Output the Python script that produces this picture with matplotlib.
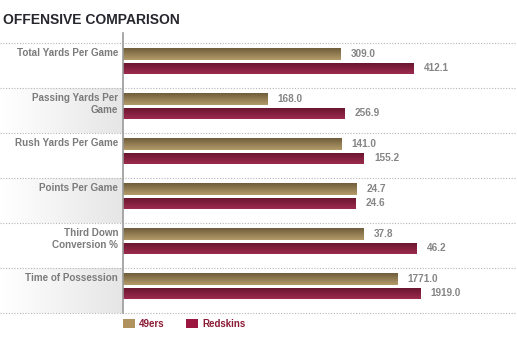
import numpy as np
import matplotlib
matplotlib.use("Agg")
import matplotlib.pyplot as plt
from matplotlib import font_manager
from matplotlib.lines import Line2D
from matplotlib.patches import Patch
from matplotlib.colors import to_rgb

# --- data ---
categories = ["Total Yards Per Game", "Passing Yards Per\nGame", "Rush Yards Per Game",
              "Points Per Game", "Third Down\nConversion %", "Time of Possession"]
niners = [309.0, 168.0, 141.0, 24.7, 37.8, 1771.0]
redskins = [412.1, 256.9, 155.2, 24.6, 46.2, 1919.0]
# each row has its own full-scale value
row_max = [559, 458, 254, 41.7, 62, 2540]
teams = ["49ers", "Redskins"]

GOLD_TOP, GOLD_BOT = "#6f5e3c", "#b39a69"
RED_TOP, RED_BOT = "#6b1630", "#9c2b4e"
GOLD_KEY, RED_KEY = "#b0925f", "#9c1640"
LABEL_C = "#7b7b7b"
VALUE_C = "#858585"

plt.rcParams["font.family"] = ["Liberation Sans", "DejaVu Sans"]

W, H = 517, 353
fig = plt.figure(figsize=(W / 100, H / 100), dpi=100)

n = len(categories)
top_pad = 10 / 45  # axis line sticks out above the first row
bottom_px, top_px = 313.3, 43.3 - 10
ax = fig.add_axes([123 / W, (H - bottom_px) / H, 1 - 123 / W, (bottom_px - top_px) / H])
lab = fig.add_axes([0, (H - bottom_px) / H, 123 / W, (bottom_px - top_px) / H], zorder=-1)


def grad(c1, c2, steps=32, horizontal=False):
    a = np.linspace(0, 1, steps)[:, None]
    arr = np.array(to_rgb(c1)) * (1 - a) + np.array(to_rgb(c2)) * a
    arr = arr[:, None, :]
    if horizontal:
        arr = arr.transpose(1, 0, 2)
    return arr


def gradient_bars(bars, c_top, c_bot):
    for b in bars:
        x0, y0 = b.get_x(), b.get_y()
        w, h = b.get_width(), b.get_height()
        b.set_facecolor("none")
        b.set_edgecolor("none")
        im = ax.imshow(grad(c_top, c_bot), extent=(x0, x0 + w, y0 + h, y0),
                       origin="upper", aspect="auto", interpolation="bilinear", zorder=2)
        im.set_clip_path(b)


y = np.arange(n)
nin_frac = np.array(niners) / np.array(row_max)
red_frac = np.array(redskins) / np.array(row_max)

b1 = ax.barh(y + 0.233, nin_frac, height=0.265, zorder=2)
b2 = ax.barh(y + 0.556, red_frac, height=0.24, zorder=2)
gradient_bars(b1, GOLD_TOP, GOLD_BOT)
gradient_bars(b2, RED_TOP, RED_BOT)

for i in range(n):
    ax.annotate(f"{niners[i]:.1f}", (nin_frac[i], y[i] + 0.233), xytext=(7.3, 0),
                textcoords="offset points", va="center", ha="left",
                fontsize=7.2, fontweight="bold", color=VALUE_C)
    ax.annotate(f"{redskins[i]:.1f}", (red_frac[i], y[i] + 0.556), xytext=(7.3, 0),
                textcoords="offset points", va="center", ha="left",
                fontsize=7.2, fontweight="bold", color=VALUE_C)

ax.set_xlim(0, 1)
ax.set_ylim(n, -top_pad)
ax.set_xticks([])
ax.set_yticks([])
for s in ["top", "right", "bottom"]:
    ax.spines[s].set_visible(False)
ax.spines["left"].set_color("#9a9a9a")
ax.spines["left"].set_linewidth(1.2)
ax.patch.set_alpha(0)

# label column with alternating gradient panels
lab.set_xlim(0, 1)
lab.set_ylim(n, -top_pad)
lab.axis("off")
for i in range(n):
    if i % 2 == 1:
        lab.imshow(grad("#ffffff", "#e6e6e6", horizontal=True), extent=(0, 1, i + 1, i),
                   aspect="auto", interpolation="bilinear", zorder=0)
    lab.text(118 / 123, i + 0.1, categories[i], ha="right", va="top",
             fontsize=7.1, fontweight="bold", color=LABEL_C, linespacing=1.25)
lab.set_xlim(0, 1)
lab.set_ylim(n, -top_pad)

# dotted row separators across the whole width
for i in range(n + 1):
    yy = (H - (43.3 + 45 * i)) / H
    fig.add_artist(Line2D([0, 1], [yy, yy], transform=fig.transFigure,
                          color="#b5b5b5", lw=0.8, ls=(0, (1, 1.5)), zorder=0))

# no condensed face installed, so a smaller bold sans stands in for the title
fig.text(3 / W, 1 - 24 / H, "OFFENSIVE COMPARISON", ha="left", va="baseline",
         fontsize=10, fontweight="bold", color="#26262e")

handles = [Patch(facecolor=GOLD_KEY), Patch(facecolor=RED_KEY)]
fig.legend(handles, teams, loc="upper left", bbox_to_anchor=(123 / W, 1 - 318.5 / H),
           ncol=2, frameon=False, prop={"weight": "bold", "size": 7},
           labelcolor="#8a1a33", handlelength=1.2, handleheight=1.2,
           handletextpad=0.45, columnspacing=2.2, borderaxespad=0, borderpad=0)

fig.savefig("out.png", dpi=100)
